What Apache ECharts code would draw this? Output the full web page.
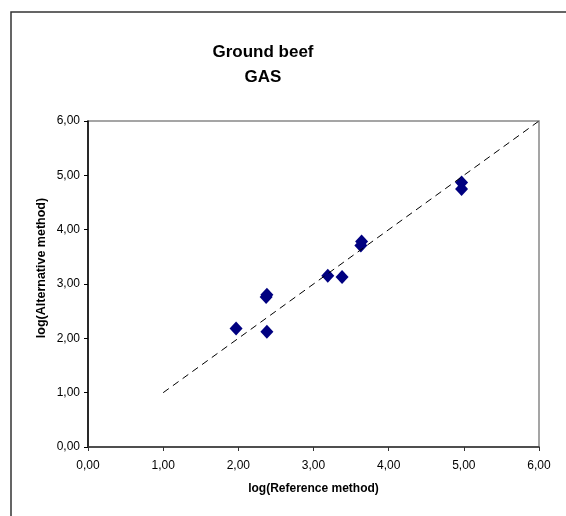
<!DOCTYPE html>
<html>
<head>
<meta charset="utf-8">
<script src="https://cdn.jsdelivr.net/npm/echarts@6/dist/echarts.min.js"></script>
<style>
  html, body { margin: 0; padding: 0; background: #fff; }
  #chart { width: 566px; height: 516px; }
</style>
</head>
<body>
<div id="chart"></div>
<script>
// log(Reference method), log(Alternative method)
var refValues = [1.97, 2.37, 2.38, 2.38, 3.19, 3.38, 3.63, 3.64, 4.97, 4.97]
var altValues = [2.18, 2.76, 2.80, 2.12, 3.15, 3.13, 3.71, 3.78, 4.87, 4.75]
// y = x reference line
var lineX = [1, 6]
var lineY = [1, 6]

var fmt = function (v) { return v.toFixed(2).replace('.', ',') }
var font = 'Liberation Sans, Arial, sans-serif'

var chart = echarts.init(document.getElementById('chart'))
chart.setOption({
  animation: false,
  backgroundColor: '#fff',
  title: {
    text: 'Ground beef\nGAS',
    left: 258,
    top: 35,
    textAlign: 'center',
    textStyle: { fontFamily: font, fontSize: 17, fontWeight: 'bold', color: '#000', lineHeight: 25 }
  },
  graphic: [{
    type: 'rect',
    shape: { x: 11, y: 12, width: 600, height: 600 },
    style: { fill: 'none', stroke: '#333', lineWidth: 1.5 },
    silent: true
  }],
  grid: {
    left: 88, top: 121, right: 27, bottom: 69,
    show: true, borderColor: '#888', borderWidth: 1.5
  },
  xAxis: {
    type: 'value', min: 0, max: 6, interval: 1,
    name: 'log(Reference method)', nameLocation: 'middle', nameGap: 36,
    nameMoveOverlap: false,
    nameTextStyle: { fontFamily: font, fontSize: 12, fontWeight: 'bold', color: '#000' },
    axisLine: { lineStyle: { color: '#333', width: 1.5 } },
    axisTick: { length: 4, lineStyle: { color: '#333' } },
    axisLabel: { formatter: fmt, fontFamily: font, fontSize: 12, color: '#000', margin: 13 },
    splitLine: { show: false }
  },
  yAxis: {
    type: 'value', min: 0, max: 6, interval: 1,
    name: 'log(Alternative method)', nameLocation: 'middle', nameGap: 40,
    nameMoveOverlap: false,
    nameTextStyle: { fontFamily: font, fontSize: 12.5, fontWeight: 'bold', color: '#000', padding: [0, 0, 0, 32] },
    axisLine: { lineStyle: { color: '#000', width: 1.5 } },
    axisTick: { length: 4, lineStyle: { color: '#000' } },
    axisLabel: { formatter: fmt, fontFamily: font, fontSize: 12, color: '#000', margin: 8 },
    splitLine: { show: false }
  },
  series: [
    {
      type: 'line',
      data: lineX.map(function (x, i) { return [x, lineY[i]] }),
      symbol: 'none',
      lineStyle: { color: '#000', width: 1, type: [7, 5] },
      silent: true
    },
    {
      type: 'scatter',
      data: refValues.map(function (x, i) { return [x, altValues[i]] }),
      symbol: 'diamond',
      symbolSize: [13, 14],
      itemStyle: { color: '#000080', opacity: 1 }
    }
  ]
})
</script>
</body>
</html>
